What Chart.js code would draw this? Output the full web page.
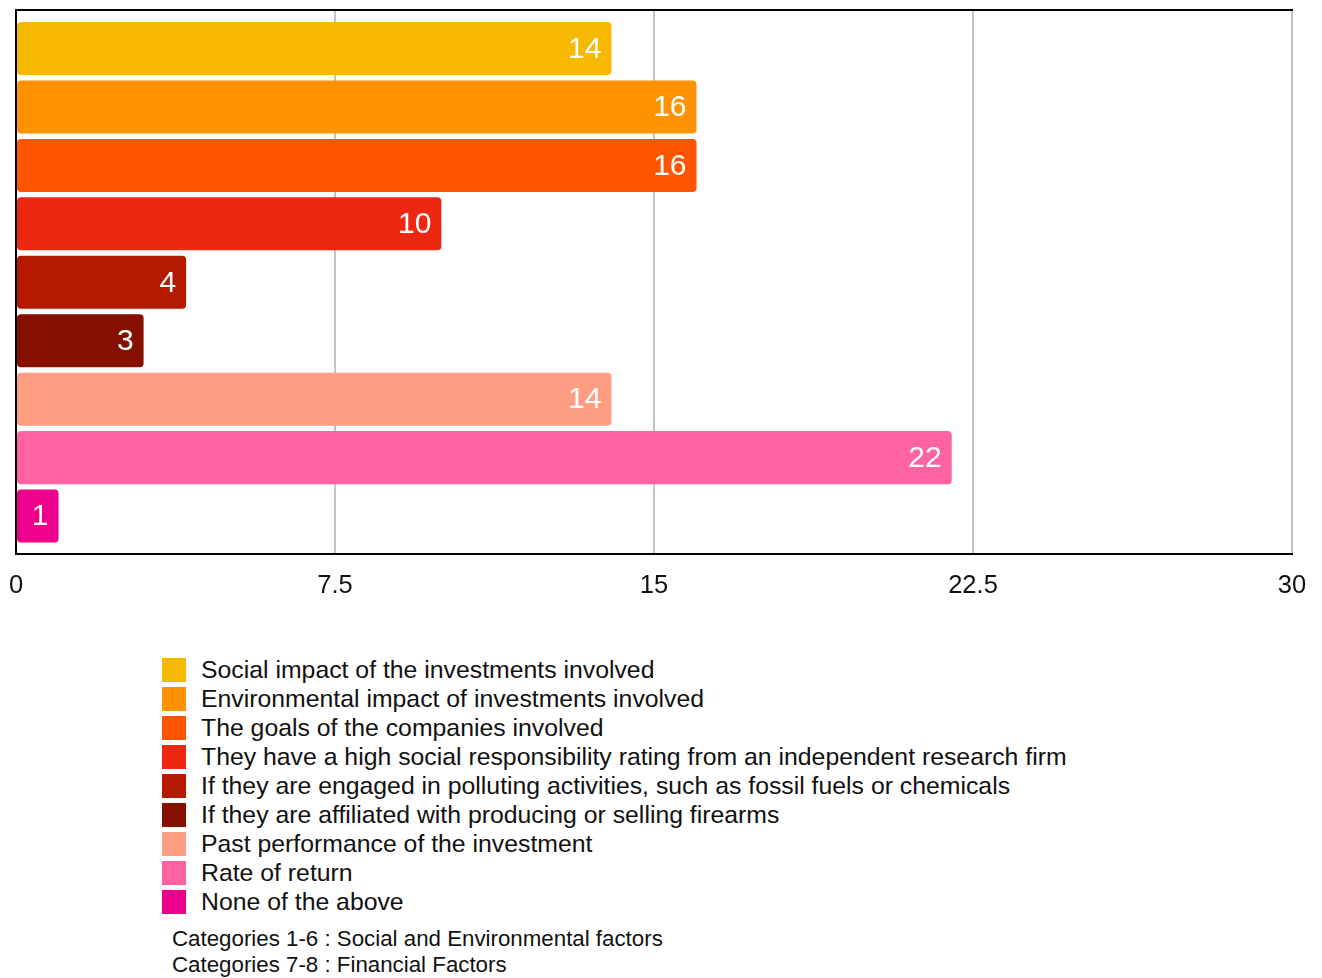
<!DOCTYPE html>
<html>
<head>
<meta charset="utf-8">
<script src="https://cdn.jsdelivr.net/npm/chart.js@4/dist/chart.umd.min.js"></script>
<style>
  html, body { margin: 0; padding: 0; background: #fff; }
  body { width: 1322px; height: 978px; position: relative; overflow: hidden; font-family: "Liberation Sans", Arial, Helvetica, sans-serif; color: #111; }
  #wrap { position: absolute; left: 0; top: 0; width: 1322px; height: 601px; }
  #legend { position: absolute; left: 162px; top: 655px; }
  .li { display: flex; align-items: center; height: 29px; font-size: 24.8px; white-space: nowrap; }
  .sw { width: 24px; height: 24px; margin-right: 15px; flex: none; }
  #notes { position: absolute; left: 172px; top: 926px; font-size: 22.3px; line-height: 26px; color: #111; }
</style>
</head>
<body>
<div id="wrap"><canvas id="c"></canvas></div>
<div id="legend"></div>
<div id="notes"></div>
<script>
const categories = [
  "Social impact of the investments involved",
  "Environmental impact of investments involved",
  "The goals of the companies involved",
  "They have a high social responsibility rating from an independent research firm",
  "If they are engaged in polluting activities, such as fossil fuels or chemicals",
  "If they are affiliated with producing or selling firearms",
  "Past performance of the investment",
  "Rate of return",
  "None of the above"
];
const values = [14, 16, 16, 10, 4, 3, 14, 22, 1];
const colors = ["#F6B900", "#FF9200", "#FF5400", "#EE2711", "#B51A00", "#861000", "#FF9D83", "#FF63A1", "#EC008C"];
const xTicks = [0, 7.5, 15, 22.5, 30];
const notes = [
  "Categories 1-6 : Social and Environmental factors",
  "Categories 7-8 : Financial Factors"
];

const FONT = '"Liberation Sans", Arial, Helvetica, sans-serif';

const points = values.map((v, i) => ({ x: v, y: i }));

const valueLabels = {
  id: 'valueLabels',
  afterDatasetsDraw(chart) {
    const ctx = chart.ctx;
    const meta = chart.getDatasetMeta(0);
    ctx.save();
    ctx.fillStyle = '#ffffff';
    ctx.font = '30px ' + FONT;
    ctx.textAlign = 'right';
    ctx.textBaseline = 'middle';
    meta.data.forEach((bar, i) => {
      ctx.fillText(String(values[i]), bar.x - 10, bar.y + 1);
    });
    ctx.restore();
  }
};

new Chart(document.getElementById('c'), {
  type: 'bar',
  data: {
    datasets: [{
      data: points,
      backgroundColor: colors,
      borderWidth: 0,
      borderRadius: 4,
      borderSkipped: false,
      categoryPercentage: 1,
      barPercentage: 0.9075
    }]
  },
  options: {
    indexAxis: 'y',
    responsive: true,
    maintainAspectRatio: false,
    animation: false,
    layout: { padding: { left: 16, right: 30, top: 10, bottom: 0 } },
    plugins: { legend: { display: false }, tooltip: { enabled: false } },
    scales: {
      x: {
        type: 'linear',
        position: 'bottom',
        min: 0,
        max: 30,
        afterBuildTicks(scale) { scale.ticks = xTicks.map(v => ({ value: v })); },
        ticks: {
          color: '#111',
          font: { family: FONT, size: 25.5 },
          padding: 0,
          maxRotation: 0,
          callback: (v) => String(v)
        },
        grid: { color: '#c4c4c4', lineWidth: 2, drawTicks: true, tickLength: 16, tickColor: 'rgba(0,0,0,0)' },
        border: { display: true, color: '#000', width: 2 }
      },
      xTop: {
        type: 'linear',
        axis: 'x',
        position: 'top',
        min: 0,
        max: 30,
        ticks: { display: false },
        grid: { display: false, drawOnChartArea: false, drawTicks: false },
        border: { display: true, color: '#000', width: 2 }
      },
      y: {
        type: 'linear',
        reverse: true,
        offset: false,
        min: -0.659,
        max: 8.656,
        afterBuildTicks(scale) { scale.ticks = categories.map((c, i) => ({ value: i })); },
        ticks: { display: false },
        grid: { display: false, drawTicks: false, offset: false },
        border: { display: true, color: '#000', width: 2 }
      }
    }
  },
  plugins: [valueLabels]
});

const legend = document.getElementById('legend');
categories.forEach((c, i) => {
  const row = document.createElement('div');
  row.className = 'li';
  const sw = document.createElement('span');
  sw.className = 'sw';
  sw.style.background = colors[i];
  const t = document.createElement('span');
  t.textContent = c;
  row.appendChild(sw);
  row.appendChild(t);
  legend.appendChild(row);
});
document.getElementById('notes').innerHTML = notes.map(n => '<div>' + n + '</div>').join('');
</script>
</body>
</html>
